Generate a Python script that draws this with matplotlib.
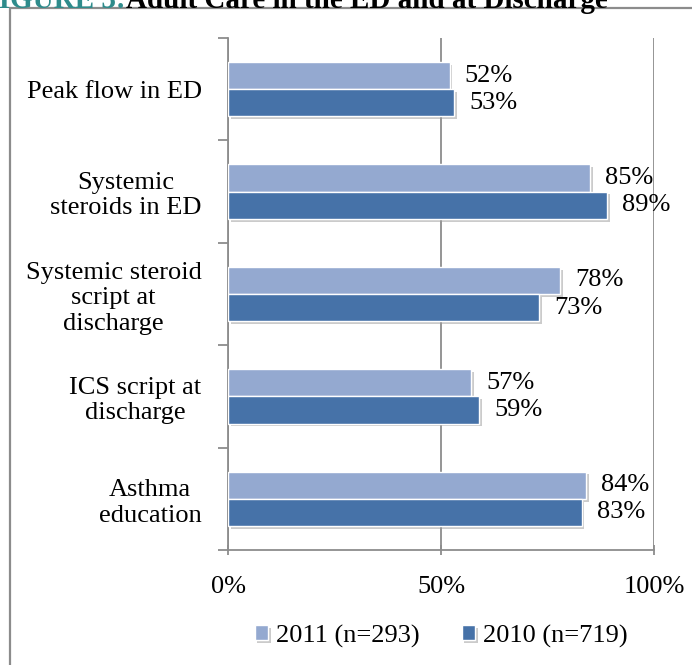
import numpy as np
import matplotlib
matplotlib.use('Agg')
import matplotlib.pyplot as plt
import matplotlib.patheffects as pe
from matplotlib.patches import Rectangle

categories = ['Peak flow in ED', 'Systemic\nsteroids in ED', 'Systemic steroid\nscript at\ndischarge',
              'ICS script at\ndischarge', 'Asthma\neducation']
vals_2011 = [52, 85, 78, 57, 84]
vals_2010 = [53, 89, 73, 59, 83]
series_names = ['2011 (n=293)', '2010 (n=719)']
xticks = [0, 50, 100]
xticklabels = ['0%', '50%', '100%']

c_2011 = '#94A9D0'
c_2010 = '#4672A8'
grey = '#8C8C8C'
fs = 19
plt.rcParams['font.family'] = ['Liberation Serif', 'DejaVu Serif']

fig = plt.figure(figsize=(6.92, 6.65), dpi=100)
ax = fig.add_axes([228/692, 1 - 550/665, 426/692, (550 - 38)/665])

# outer frame and the title cut off by the top edge
fig.add_artist(Rectangle((10/692, -0.1), 2, 1 - 8/665 + 0.1, transform=fig.transFigure,
                         fill=False, edgecolor=grey, linewidth=1.6))
fig.text(126/692, 0.999, 'FIGURE 3:', color='#2E8B8B', fontsize=21, fontweight='bold', va='center', ha='right')
fig.text(126/692, 0.999, 'Adult Care in the ED and at Discharge', color='black', fontsize=21,
         fontweight='bold', va='center', ha='left')

y = np.arange(len(categories))
h = 0.265
shadow = [pe.SimplePatchShadow(offset=(2, -2), shadow_rgbFace='#999999', alpha=0.5), pe.Normal()]
b1 = ax.barh(y - h/2, vals_2011, height=h, color=c_2011, edgecolor='white', linewidth=1, label=series_names[0], zorder=3)
b2 = ax.barh(y + h/2, vals_2010, height=h, color=c_2010, edgecolor='white', linewidth=1, label=series_names[1], zorder=3)
for b in list(b1) + list(b2):
    b.set_path_effects(shadow)

for yy, v in zip(y - h/2, vals_2011):
    ax.annotate(f'{v}%', (v, yy), xytext=(11, 0), textcoords='offset points', va='center', ha='left', fontsize=fs)
for yy, v in zip(y + h/2, vals_2010):
    ax.annotate(f'{v}%', (v, yy), xytext=(11, 0), textcoords='offset points', va='center', ha='left', fontsize=fs)

ax.set_xlim(0, 100)
ax.set_ylim(len(categories) - 0.5, -0.5)
ax.set_xticks(xticks)
ax.set_xticklabels(xticklabels, fontsize=fs)
ax.set_yticks(y)
ax.set_yticklabels(categories, fontsize=fs, linespacing=1.2)
ax.set_yticks(np.arange(len(categories) + 1) - 0.5, minor=True)
ax.tick_params(axis='y', which='major', length=0, pad=19)
ax.tick_params(axis='y', which='minor', length=7, color=grey, width=1.3)
ax.tick_params(axis='x', length=7, color=grey, width=1.3, direction='inout', pad=15)
for lbl in ax.get_yticklabels():
    lbl.set_multialignment('center')

ax.grid(axis='x', color=grey, linewidth=1.3, zorder=0)
for s in ['top', 'right']:
    ax.spines[s].set_visible(False)
for s in ['left', 'bottom']:
    ax.spines[s].set_color(grey)
    ax.spines[s].set_linewidth(1.3)

ax.legend(loc='center', bbox_to_anchor=(441/692, 1 - 636/665), bbox_transform=fig.transFigure, ncol=2,
          frameon=False, fontsize=fs, handlelength=0.5, handleheight=0.5, handletextpad=0.3, columnspacing=1.6)

fig.savefig('out.png', dpi=100)
